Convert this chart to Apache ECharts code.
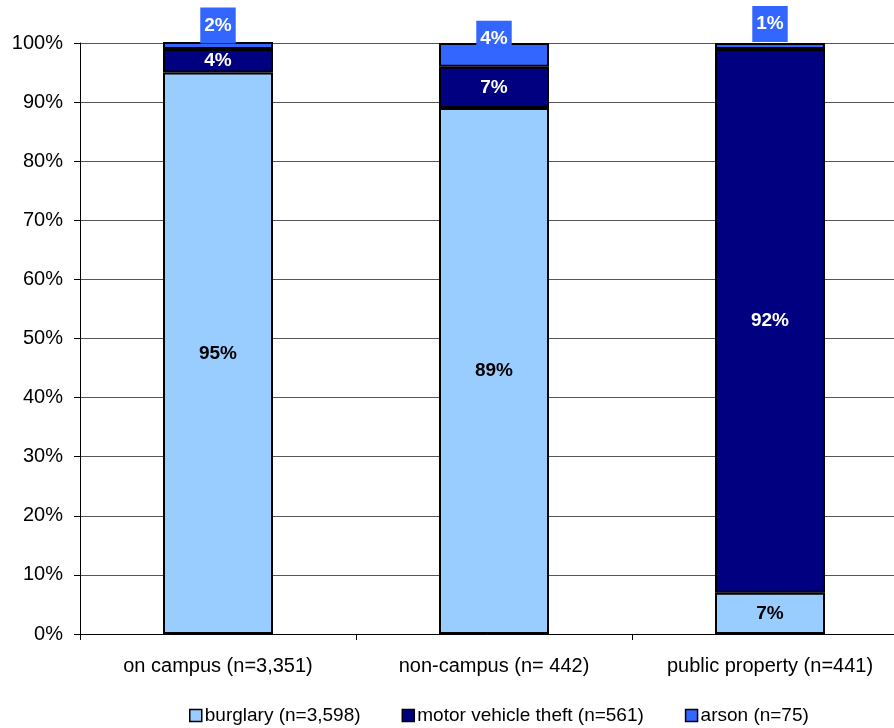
<!DOCTYPE html>
<html>
<head>
<meta charset="utf-8">
<title>Property crimes by location</title>
<script src="https://cdn.jsdelivr.net/npm/echarts@6/dist/echarts.min.js"></script>
<style>
  html, body { margin: 0; padding: 0; background: #fff; }
  #chart { width: 894px; height: 728px; }
</style>
</head>
<body>
<div id="chart"></div>
<script>
// Locations on the category axis
const categories = ['on campus (n=3,351)', 'non-campus (n= 442)', 'public property (n=441)'];

// Share of each offence type per location, in percent
const burglary = [95, 89, 7];
const motorVehicleTheft = [4, 7, 92];
const arson = [2, 4, 1];

// Legend names
const seriesNames = ['burglary (n=3,598)', 'motor vehicle theft (n=561)', 'arson (n=75)'];

// Vertical label nudges for the small arson segments at the top
const arsonLabelShift = [-20, -16, -22];

const yTicks = [0, 10, 20, 30, 40, 50, 60, 70, 80, 90, 100];

const FONT = '"Liberation Sans", Arial, sans-serif';
const colors = ['#99CCFF', '#000080', '#3366FF'];

const chart = echarts.init(document.getElementById('chart'), null, { renderer: 'canvas' });

const barBorder = { borderColor: '#000', borderWidth: 2 };

const option = {
  animation: false,
  textStyle: { fontFamily: FONT },
  grid: {
    left: 80, top: 43, width: 828, height: 591,
    containLabel: false, outerBoundsMode: 'none'
  },
  legend: {
    left: 189,
    top: 706,
    padding: 0,
    itemWidth: 12,
    itemHeight: 12,
    itemGap: 41,
    icon: 'rect',
    itemStyle: { borderColor: '#000', borderWidth: 1.5 },
    textStyle: { fontFamily: FONT, fontSize: 19, color: '#000', padding: [0, 0, 0, -2] },
    data: seriesNames
  },
  xAxis: {
    type: 'category',
    data: categories,
    axisLine: { lineStyle: { color: '#000', width: 1 } },
    axisTick: { show: true, length: 6, alignWithLabel: false, lineStyle: { color: '#000' } },
    axisLabel: { fontFamily: FONT, fontSize: 20, color: '#000', margin: 22, interval: 0 },
    splitLine: { show: false }
  },
  yAxis: {
    type: 'value',
    min: 0,
    max: 100,
    interval: 10,
    axisLine: { show: true, lineStyle: { color: '#000', width: 1 } },
    axisTick: { show: true, length: 6, inside: false, lineStyle: { color: '#000' } },
    axisLabel: {
      fontFamily: FONT, fontSize: 20, color: '#000', margin: 17,
      formatter: function (v) { return yTicks.indexOf(v) >= 0 ? v + '%' : ''; }
    },
    splitLine: { show: true, lineStyle: { color: '#555', width: 1 } }
  },
  series: [
    {
      name: seriesNames[0],
      type: 'bar',
      stack: 'share',
      barWidth: 110,
      clip: true,
      itemStyle: Object.assign({ color: colors[0] }, barBorder),
      label: {
        show: true, position: 'inside', formatter: '{c}%',
        fontFamily: FONT, fontSize: 19, fontWeight: 'bold', color: '#000'
      },
      data: burglary
    },
    {
      name: seriesNames[1],
      type: 'bar',
      stack: 'share',
      barWidth: 110,
      clip: true,
      itemStyle: Object.assign({ color: colors[1] }, barBorder),
      label: {
        show: true, position: 'inside', formatter: '{c}%',
        fontFamily: FONT, fontSize: 19, fontWeight: 'bold', color: '#fff'
      },
      data: motorVehicleTheft
    },
    {
      name: seriesNames[2],
      type: 'bar',
      stack: 'share',
      barWidth: 110,
      clip: true,
      itemStyle: Object.assign({ color: colors[2] }, barBorder),
      label: {
        show: true, position: 'inside', formatter: '{c}%',
        fontFamily: FONT, fontSize: 19, fontWeight: 'bold', color: '#fff',
        backgroundColor: colors[2], padding: [9, 4, 8, 4]
      },
      data: arson.map(function (v, i) {
        return { value: v, label: { offset: [0, arsonLabelShift[i]] } };
      })
    }
  ]
};

chart.setOption(option);
</script>
</body>
</html>
